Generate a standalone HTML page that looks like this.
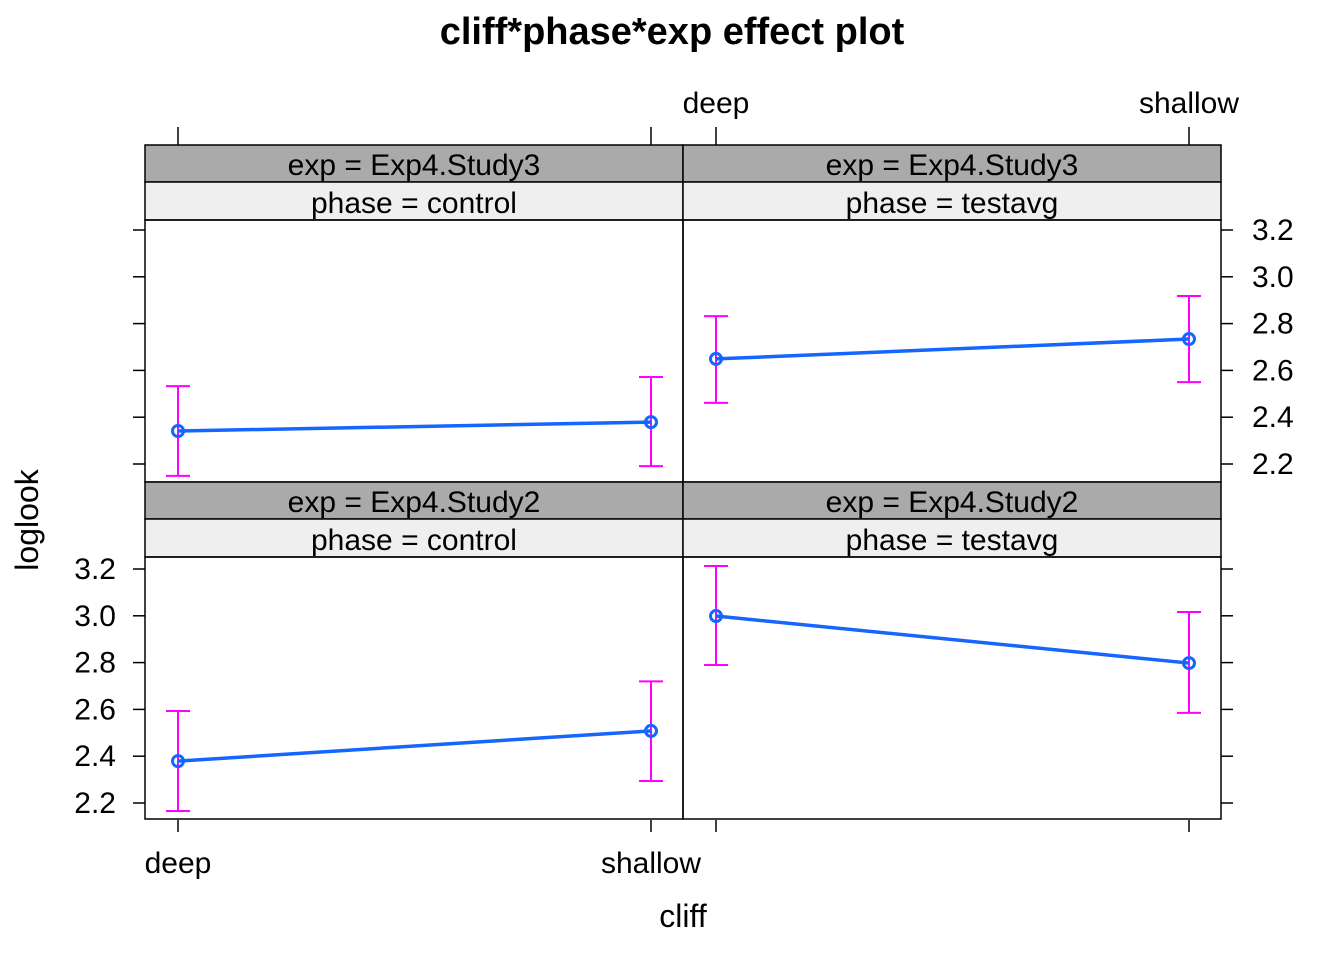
<!DOCTYPE html>
<html><head><meta charset="utf-8"><style>
body{margin:0;background:#fff;}
svg text{font-family:"Liberation Sans",Arial,sans-serif;}
</style></head><body>
<svg id="chart" width="1344" height="960" viewBox="0 0 1344 960" xmlns="http://www.w3.org/2000/svg">
<text x="672" y="44" font-size="38" font-weight="bold" text-anchor="middle">cliff*phase*exp effect plot</text>
<text x="683" y="927" font-size="32" text-anchor="middle">cliff</text>
<text x="38" y="520" font-size="32" text-anchor="middle" transform="rotate(-90 38 520)">loglook</text>
<g id="panels"></g>
</svg>
<script>
const categories = ["deep", "shallow"];
const yTicks = [2.2, 2.4, 2.6, 2.8, 3.0, 3.2];
const panelExp = ["Exp4.Study3", "Exp4.Study3", "Exp4.Study2", "Exp4.Study2"];
const panelPhase = ["control", "testavg", "control", "testavg"];
const fitStudy3Control = [2.341, 2.379];
const lowerStudy3Control = [2.149, 2.191];
const upperStudy3Control = [2.533, 2.572];
const fitStudy3Testavg = [2.649, 2.734];
const lowerStudy3Testavg = [2.461, 2.550];
const upperStudy3Testavg = [2.832, 2.918];
const fitStudy2Control = [2.379, 2.508];
const lowerStudy2Control = [2.166, 2.294];
const upperStudy2Control = [2.593, 2.720];
const fitStudy2Testavg = [2.999, 2.798];
const lowerStudy2Testavg = [2.790, 2.585];
const upperStudy2Testavg = [3.213, 3.016];

const fits = [fitStudy3Control, fitStudy3Testavg, fitStudy2Control, fitStudy2Testavg];
const lows = [lowerStudy3Control, lowerStudy3Testavg, lowerStudy2Control, lowerStudy2Testavg];
const ups = [upperStudy3Control, upperStudy3Testavg, upperStudy2Control, upperStudy2Testavg];

const NS = "http://www.w3.org/2000/svg";
const g = document.getElementById("panels");
function mk(tag, attrs, parent) {
  const e = document.createElementNS(NS, tag);
  for (const k in attrs) e.setAttribute(k, attrs[k]);
  (parent || g).appendChild(e);
  return e;
}
const colX = [145, 683], pw = 538;
const rowTop = [145, 482];
function xScale(col, i) { return colX[col] + 33 + i * 473 / (categories.length - 1); }
function yScale(row, v) { const base = row === 0 ? 464 : 803; return base - (v - 2.2) * 234; }

for (let p = 0; p < 4; p++) {
  const row = Math.floor(p / 2), col = p % 2;
  const x0 = colX[col], t = rowTop[row];
  const s1 = mk("rect", {x: x0, y: t, width: pw, height: 37, fill: "#aaaaaa", stroke: "#000", "stroke-width": 1.5});
  
  
  const tx1 = mk("text", {x: x0 + pw / 2, y: t + 30, "font-size": 30, "text-anchor": "middle"});
  tx1.textContent = "exp = " + panelExp[p];
  
  
  const s2 = mk("rect", {x: x0, y: t + 37, width: pw, height: 38, fill: "#efefef", stroke: "#000", "stroke-width": 1.5});
  
  
  const tx2 = mk("text", {x: x0 + pw / 2, y: t + 68, "font-size": 30, "text-anchor": "middle"});
  tx2.textContent = "phase = " + panelPhase[p];
  
  
  const pr = mk("rect", {x: x0, y: t + 75, width: pw, height: 262, fill: "none", stroke: "#000", "stroke-width": 1.5});
  
  

  yTicks.forEach(v => {
    const y = yScale(row, v);
    if (col === 0) mk("line", {x1: x0 - 12, x2: x0, y1: y, y2: y, stroke: "#000", "stroke-width": 1.5});
    else mk("line", {x1: x0 + pw, x2: x0 + pw + 12, y1: y, y2: y, stroke: "#000", "stroke-width": 1.5});
    if ((row === 1 && col === 0) || (row === 0 && col === 1)) {
      const lt = mk("text", {x: col === 0 ? x0 - 29 : x0 + pw + 31, y: y + 10, "font-size": 30, "text-anchor": col === 0 ? "end" : "start"});
      lt.textContent = v.toFixed(1);
      
      
    }
  });
  categories.forEach((c, i) => {
    const x = xScale(col, i);
    if (row === 1) {
      mk("line", {x1: x, x2: x, y1: 820, y2: 832, stroke: "#000", "stroke-width": 1.5});
      if (col === 0) {
        const lt = mk("text", {x: x, y: 873, "font-size": 30, "text-anchor": "middle"});
        lt.textContent = c;
        
        
      }
    } else {
      mk("line", {x1: x, x2: x, y1: 127, y2: 145, stroke: "#000", "stroke-width": 1.5});
      if (col === 1) {
        const lt = mk("text", {x: x, y: 113, "font-size": 30, "text-anchor": "middle"});
        lt.textContent = c;
        
        
      }
    }
  });
  categories.forEach((c, i) => {
    const x = xScale(col, i);
    const yl = yScale(row, lows[p][i]), yu = yScale(row, ups[p][i]);
    const eb = mk("path", {d: `M${x},${yl}V${yu}M${x-12},${yl}H${x+12}M${x-12},${yu}H${x+12}`, stroke: "#ff00ff", "stroke-width": 2, fill: "none"});
    
    
  });
  const pts = fits[p].map((v, i) => xScale(col, i) + "," + yScale(row, v)).join(" ");
  const ln = mk("polyline", {points: pts, stroke: "#1565ff", "stroke-width": 3.5, fill: "none"});
  
  
  fits[p].forEach((v, i) => {
    const c = mk("circle", {cx: xScale(col, i), cy: yScale(row, v), r: 5.5, fill: "none", stroke: "#1565ff", "stroke-width": 3});
    
    
  });
}
</script>
</body></html>
